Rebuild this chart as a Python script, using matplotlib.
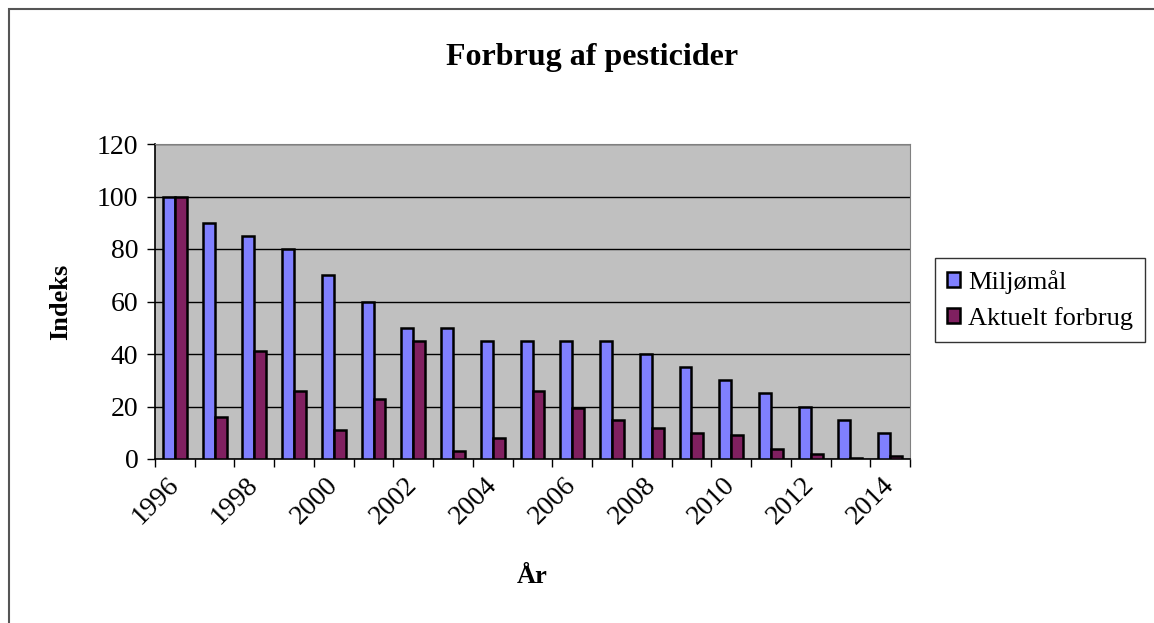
import numpy as np
import matplotlib.pyplot as plt
from matplotlib.patches import Rectangle

# data
years = list(range(1996, 2015))
miljomaal = [100, 90, 85, 80, 70, 60, 50, 50, 45, 45, 45, 45, 40, 35, 30, 25, 20, 15, 10]
aktuelt = [100, 16, 41, 26, 11, 23, 45, 3, 8, 26, 19.5, 15, 12, 10, 9, 4, 2, 0.5, 1]
year_labels = [str(y) if (y - 1996) % 2 == 0 else "" for y in years]

plt.rcParams['font.family'] = ['Liberation Serif', 'DejaVu Serif']

fig = plt.figure(figsize=(11.54, 6.23), dpi=100)
ax = fig.add_axes([155 / 1154, 1 - 459 / 623, 755 / 1154, 315 / 623])

# outer chart border (only left and top visible in the picture)
fig.patches.append(Rectangle((9 / 1154, -0.5), 2.0, 1.5 - 9 / 623,
                             transform=fig.transFigure, fill=False,
                             edgecolor='#555555', linewidth=1.5))

x = np.arange(len(years))
w = 0.3
ax.set_facecolor('#C0C0C0')
ax.bar(x - w / 2, miljomaal, w, color='#8080FF', edgecolor='black',
       linewidth=1.8, label='Miljømål', zorder=3)
ax.bar(x + w / 2, aktuelt, w, color='#802060', edgecolor='black',
       linewidth=1.8, label='Aktuelt forbrug', zorder=3)

ax.set_xlim(-0.5, len(years) - 0.5)
ax.set_ylim(0, 120)
ax.set_yticks(range(0, 121, 20))
ax.yaxis.grid(True, color='black', linewidth=1, zorder=1)

# ticks between categories, labels under every other year
ax.set_xticks(np.arange(len(years) + 1) - 0.5)
ax.set_xticklabels([])
ax.set_xticks(x, minor=True)
ax.set_xticklabels(year_labels, minor=True, rotation=45, ha='right',
                   va='center', rotation_mode='anchor', fontsize=20)
ax.tick_params(axis='x', which='minor', length=0, pad=16)
ax.tick_params(axis='x', which='major', length=6, width=1, direction='out')
ax.tick_params(axis='y', length=6, width=1, direction='out', labelsize=20, pad=6)

for s in ['top', 'right']:
    ax.spines[s].set_color('#808080')
for s in ['left', 'bottom']:
    ax.spines[s].set_color('black')
    ax.spines[s].set_linewidth(1.2)

ax.set_ylabel('Indeks', fontsize=19, fontweight='bold', labelpad=18)
ax.set_xlabel('År', fontsize=19, fontweight='bold', labelpad=26)
fig.text(592 / 1154, 1 - 58 / 623, 'Forbrug af pesticider', ha='center', va='center',
         fontsize=23, fontweight='bold')

leg = fig.legend(loc='center', bbox_to_anchor=(1040 / 1154, 1 - 300 / 623),
                 fontsize=19, frameon=True, fancybox=False, edgecolor='black',
                 handlelength=0.5, handleheight=0.5, handletextpad=0.3,
                 labelspacing=0.5, borderpad=0.45, borderaxespad=0)
leg.get_frame().set_linewidth(1)

fig.savefig('out.png', dpi=100)
